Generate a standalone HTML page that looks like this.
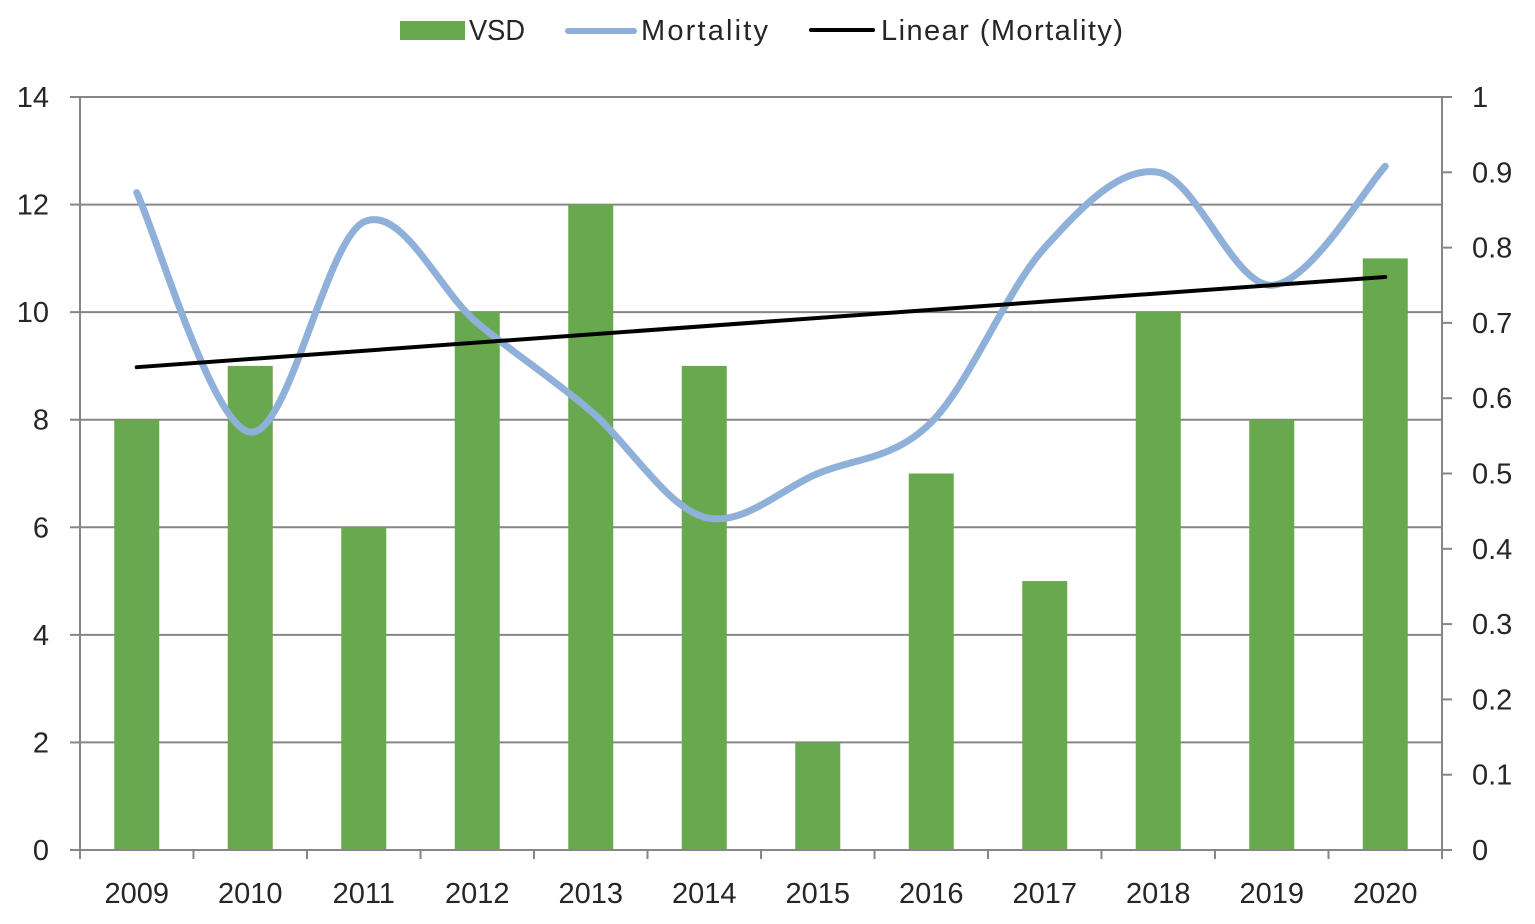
<!DOCTYPE html>
<html lang="en">
<head>
<meta charset="utf-8">
<title>VSD and Mortality chart</title>
<style>
html,body{margin:0;padding:0;background:#fff;}
svg{display:block;}
text{font-family:"Liberation Sans",sans-serif;font-size:29px;fill:#262626;}
</style>
</head>
<body>
<svg id="chart" width="1535" height="924" viewBox="0 0 1535 924" xmlns="http://www.w3.org/2000/svg">
  <g id="grid"></g>
  <g id="bars"></g>
  <g id="axes"></g>
  <g id="lines"></g>
  <g id="legend">
    <g>
      <rect x="400" y="21" width="65" height="19" fill="#68a94f"></rect>
      <text x="469" y="40" textLength="56" lengthAdjust="spacingAndGlyphs">VSD</text>
    </g>
    <g>
      <line x1="568" y1="31" x2="634" y2="31" stroke="#8fb0d8" stroke-width="6" stroke-linecap="round"></line>
      <text x="641" y="40" textLength="127" lengthAdjust="spacing">Mortality</text>
    </g>
    <g>
      <line x1="811" y1="30" x2="873" y2="30" stroke="#000" stroke-width="4" stroke-linecap="round"></line>
      <text x="881" y="40" textLength="242" lengthAdjust="spacing">Linear (Mortality)</text>
    </g>
  </g>
</svg>
<script>
const categories = ["2009","2010","2011","2012","2013","2014","2015","2016","2017","2018","2019","2020"];
const vsdValues = [8,9,6,10,12,9,2,7,5,10,8,11];
const mortalityValues = [0.873,0.555,0.834,0.70,0.583,0.442,0.50,0.568,0.80,0.90,0.75,0.908];
const leftTicks = [0,2,4,6,8,10,12,14];
const rightTicks = [0,0.1,0.2,0.3,0.4,0.5,0.6,0.7,0.8,0.9,1];

const NS = "http://www.w3.org/2000/svg";
const plotLeft = 80, plotRight = 1442, plotTop = 97, plotBottom = 850;
const leftMax = 14, rightMax = 1, barWidth = 45;

function xBand(i){ return plotLeft + (plotRight - plotLeft) * i / categories.length; }
function xCenter(i){ return plotLeft + (plotRight - plotLeft) * (i + 0.5) / categories.length; }
function yLeft(v){ return plotBottom - (plotBottom - plotTop) * v / leftMax; }
function yRight(v){ return plotBottom - (plotBottom - plotTop) * v / rightMax; }

function make(tag, parent, attrs){
  const el = document.createElementNS(NS, tag);
  for (const k in attrs) el.setAttribute(k, attrs[k]);
  parent.appendChild(el);
  return el;
}

const gridG = document.getElementById("grid");
const barsG = document.getElementById("bars");
const axesG = document.getElementById("axes");
const linesG = document.getElementById("lines");
const axisColor = "#868686";

leftTicks.forEach(function(t){
  const y = yLeft(t);
  const g = make("line", gridG, {x1:plotLeft, x2:plotRight, y1:y, y2:y, stroke:axisColor, "stroke-width":2});
  
  
  const tk = make("line", axesG, {x1:plotLeft-10, x2:plotLeft, y1:y, y2:y, stroke:axisColor, "stroke-width":2});
  
  
  const lb = make("text", axesG, {x:49, y:y+10, "text-anchor":"end"});
  lb.textContent = String(t);
  
  
});

rightTicks.forEach(function(t){
  const y = yRight(t);
  const tk = make("line", axesG, {x1:plotRight, x2:plotRight+10, y1:y, y2:y, stroke:axisColor, "stroke-width":2});
  
  
  const lb = make("text", axesG, {x:1472, y:y+10});
  lb.textContent = String(t);
  
  
});

categories.forEach(function(c, i){
  const cx = xCenter(i);
  const top = yLeft(vsdValues[i]);
  const bar = make("rect", barsG, {x:cx-barWidth/2, y:top, width:barWidth, height:plotBottom-top, fill:"#68a94f"});
  
  
  const lb = make("text", axesG, {x:cx, y:903, "text-anchor":"middle"});
  lb.textContent = c;
  
  
});

for (let i = 0; i <= categories.length; i++){
  const x = xBand(i);
  const tk = make("line", axesG, {x1:x, x2:x, y1:plotBottom, y2:plotBottom+9, stroke:axisColor, "stroke-width":2});
  
  
}

const leftAxis = make("line", axesG, {x1:plotLeft, x2:plotLeft, y1:plotTop, y2:plotBottom, stroke:axisColor, "stroke-width":2});


const rightAxis = make("line", axesG, {x1:plotRight, x2:plotRight, y1:plotTop, y2:plotBottom, stroke:axisColor, "stroke-width":2});


const bottomAxis = make("line", axesG, {x1:plotLeft, x2:plotRight, y1:plotBottom, y2:plotBottom, stroke:axisColor, "stroke-width":2});



/* Smoothed mortality line (Catmull-Rom to Bezier) */
const pts = mortalityValues.map(function(v, i){ return [xCenter(i), yRight(v)]; });
let d = "M" + pts[0][0] + " " + pts[0][1];
for (let i = 0; i < pts.length - 1; i++){
  const p0 = pts[Math.max(i-1,0)], p1 = pts[i], p2 = pts[i+1], p3 = pts[Math.min(i+2,pts.length-1)];
  const c1x = p1[0] + (p2[0]-p0[0])/6, c1y = p1[1] + (p2[1]-p0[1])/6;
  const c2x = p2[0] - (p3[0]-p1[0])/6, c2y = p2[1] - (p3[1]-p1[1])/6;
  d += " C" + c1x + " " + c1y + " " + c2x + " " + c2y + " " + p2[0] + " " + p2[1];
}
const mortalityLine = make("path", linesG, {d:d, fill:"none", stroke:"#8fb0d8", "stroke-width":7, "stroke-linecap":"round"});



/* Linear trendline from least squares on the mortality series */
const n = mortalityValues.length;
let sx = 0, sy = 0, sxy = 0, sxx = 0;
mortalityValues.forEach(function(v, i){ sx += i; sy += v; sxy += i*v; sxx += i*i; });
const slope = (n*sxy - sx*sy) / (n*sxx - sx*sx);
const intercept = (sy - slope*sx) / n;
const trend = make("line", linesG, {x1:xCenter(0), y1:yRight(intercept), x2:xCenter(n-1), y2:yRight(intercept + slope*(n-1)), stroke:"#000", "stroke-width":4, "stroke-linecap":"round"});


</script>
</body>
</html>
